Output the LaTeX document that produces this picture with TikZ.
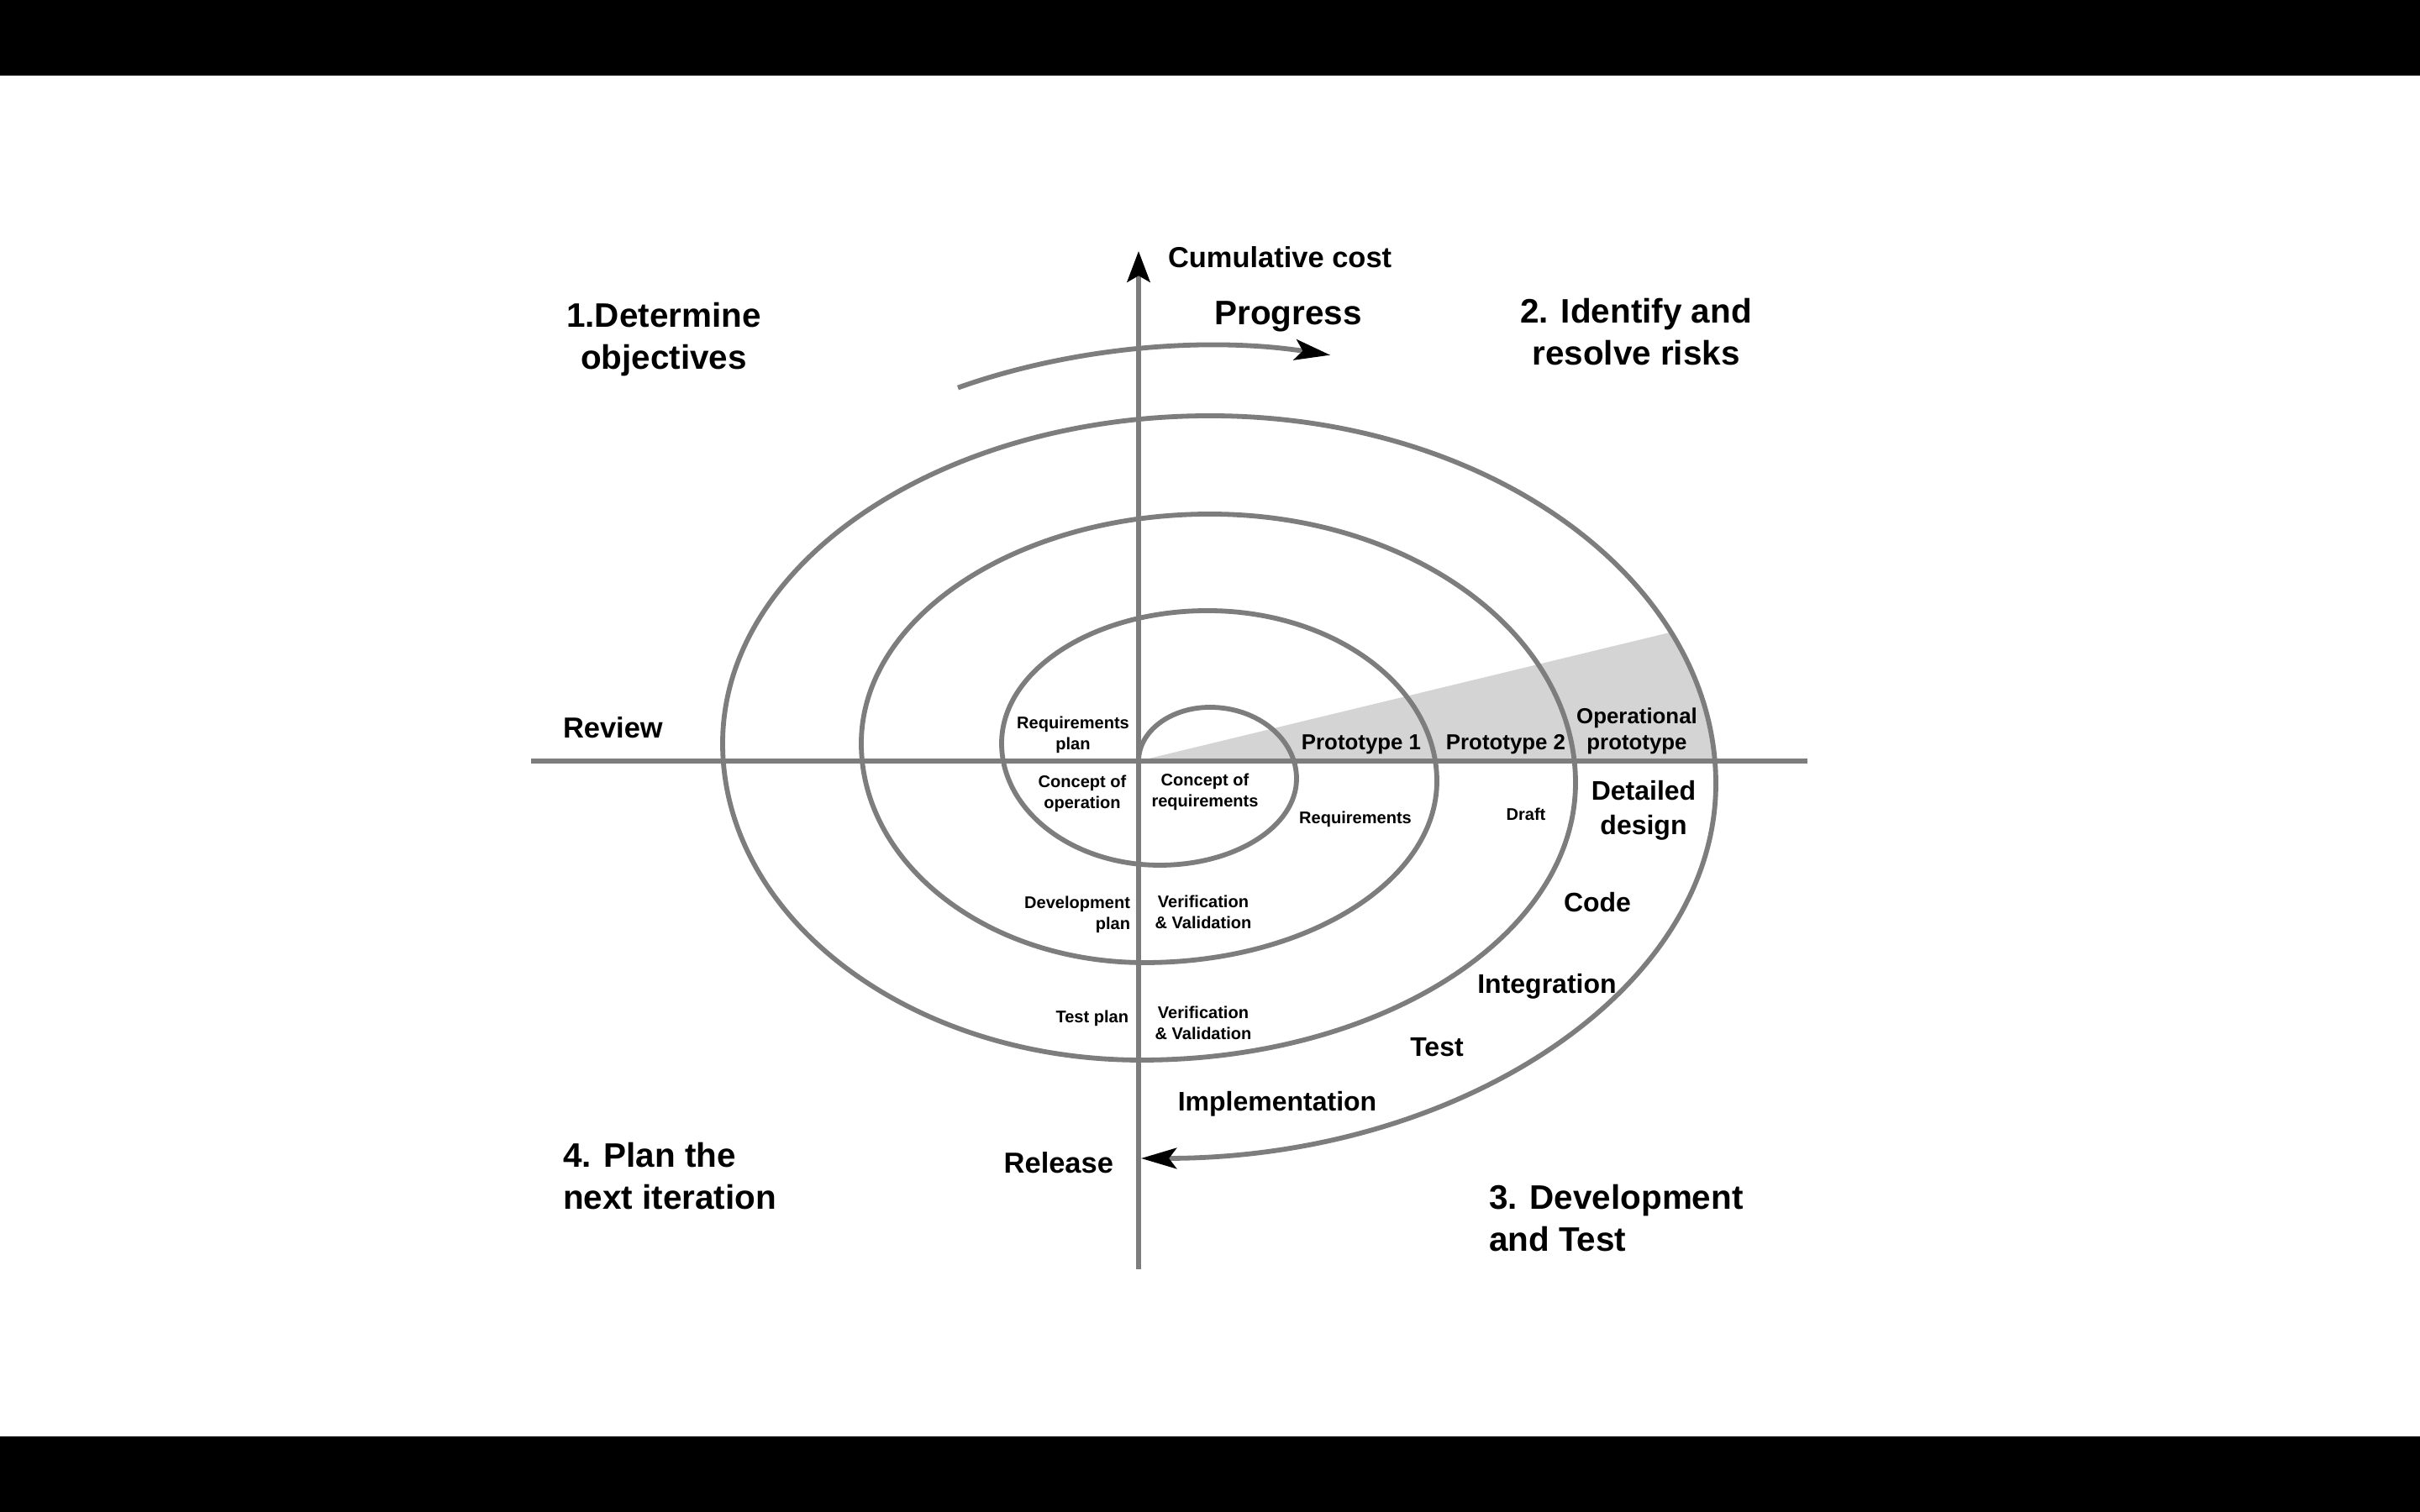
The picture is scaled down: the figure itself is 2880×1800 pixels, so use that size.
\documentclass[tikz,border=0pt]{standalone}
\usepackage{fontspec}
\setmainfont{Liberation Sans}
\usetikzlibrary{arrows.meta}
\definecolor{linegray}{RGB}{125,125,125}
\definecolor{wedgegray}{RGB}{212,212,212}
\begin{document}
\begin{tikzpicture}[x=0.01cm,y=0.01cm,
  spiralline/.style={draw=linegray,line width=1.65pt},
  axisline/.style={draw=linegray,line width=1.45pt},
  tipblack/.style={-{Stealth[length=12pt,width=7pt,inset=2.6pt,color=black]}},
  axistip/.style={-{Stealth[length=10.5pt,width=7.8pt,inset=2.2pt,color=black]}},
  lbl/.style={inner sep=0pt,outer sep=0pt,text=black},
  heading/.style={lbl,font=\bfseries\fontsize{11.5pt}{14.2pt}\selectfont},
  midlabel/.style={lbl,font=\bfseries\fontsize{9.8pt}{12pt}\selectfont},
  phase/.style={lbl,font=\bfseries\fontsize{9.1pt}{11.7pt}\selectfont},
  proto/.style={lbl,font=\bfseries\fontsize{7.35pt}{8.8pt}\selectfont},
  small/.style={lbl,font=\bfseries\fontsize{5.7pt}{7pt}\selectfont}
]
% page frame: white sheet with black bands top and bottom
\path[use as bounding box] (0,0) rectangle (2880,1800);
\fill[white] (0,90) rectangle (2880,1710);
\fill[black] (0,0) rectangle (2880,90);
\fill[black] (0,1710) rectangle (2880,1800);

% key points
\coordinate (origin) at (1355,894);
\coordinate (xleft) at (632,894);
\coordinate (xright) at (2151,894);
\coordinate (ybot) at (1355,289);
\coordinate (ytop) at (1355,1501);
\coordinate (progstart) at (1140,1338.4);

% shaded prototype wedge, bounded by the outermost turn
\begin{scope}
  \clip (1440,867) ellipse [x radius=602, y radius=438];
  \fill[wedgegray] (origin) -- (2200,1098.5) -- (2200,894) -- cycle;
\end{scope}

% axes
\draw[axisline] (xleft) -- (xright);
\draw[axisline,axistip] (ybot) -- (ytop);

% the spiral, built from quarter ellipses
\draw[spiralline,tipblack] (origin)
  arc[start angle=180,end angle=90,x radius=85,y radius=64]
  arc[start angle=90,end angle=0,x radius=103,y radius=85]
  arc[start angle=0,end angle=-90,x radius=163,y radius=103]
  arc[start angle=270,end angle=180,x radius=188,y radius=145]
  arc[start angle=180,end angle=90,x radius=245,y radius=158]
  arc[start angle=90,end angle=0,x radius=273,y radius=203]
  arc[start angle=0,end angle=-90,x radius=348,y radius=216]
  arc[start angle=270,end angle=180,x radius=337,y radius=261]
  arc[start angle=180,end angle=90,x radius=415,y radius=273]
  arc[start angle=90,end angle=0,x radius=435,y radius=320]
  arc[start angle=0,end angle=-90,x radius=517,y radius=330]
  arc[start angle=270,end angle=180,x radius=498,y radius=377]
  arc[start angle=180,end angle=90,x radius=580,y radius=390]
  arc[start angle=90,end angle=0,x radius=602,y radius=438]
  arc[start angle=0,end angle=-90,x radius=684,y radius=446] coordinate (releasept);

% progress arrow
\draw[spiralline,tipblack] (progstart)
  arc[start angle=120,end angle=76.2,x radius=600,y radius=370];

% quadrant headings
\node[heading,align=center] (q1) at (790,1396) {1.Determine\\objectives};
\node[heading,align=center] (q2) at (1947,1405) {2. Identify and\\resolve risks};
\node[heading,align=left,anchor=west] (q4) at (670,400) {4. Plan the\\next iteration};
\node[heading,align=left,anchor=west] (q3) at (1772,350) {3. Development\\and Test};
\node[heading,anchor=base] (progress) at (1533,1413) {Progress};

% axis and phase labels
\node[midlabel,anchor=base west] (cost) at (1390,1481) {Cumulative cost};
\node[midlabel,anchor=base west] (review) at (670,921) {Review};
\node[midlabel,anchor=base east] (release) at (1325,403) {Release};
\node[phase,anchor=base] (impl) at (1520,477) {Implementation};
\node[phase,anchor=base] (test) at (1710,542) {Test};
\node[phase,anchor=base] (integ) at (1841,617) {Integration};
\node[phase,anchor=base] (code) at (1901,714) {Code};
\node[phase,align=center] (ddesign) at (1956,835) {Detailed\\design};

% prototypes
\node[proto,anchor=base] (p1) at (1620,907) {Prototype 1};
\node[proto,anchor=base] (p2) at (1792,907) {Prototype 2};
\node[proto,align=center] (opproto) at (1948,930) {Operational\\prototype};

% inner labels
\node[small,anchor=base] (req) at (1613,819) {Requirements};
\node[small,anchor=base] (draft) at (1816,823) {Draft};
\node[small,align=center] (reqplan) at (1277,925) {Requirements\\plan};
\node[small,align=center] (conop) at (1288,855) {Concept of\\operation};
\node[small,align=center] (conreq) at (1434,857) {Concept of\\requirements};
\node[small,align=right,anchor=east] (devplan) at (1345,711) {Development\\plan};
\node[small,align=center] (vv1) at (1432,714) {Verification\\\& Validation};
\node[small,anchor=base east] (testplan) at (1343,582) {Test plan};
\node[small,align=center] (vv2) at (1432,582) {Verification\\\& Validation};
\end{tikzpicture}
\end{document}
